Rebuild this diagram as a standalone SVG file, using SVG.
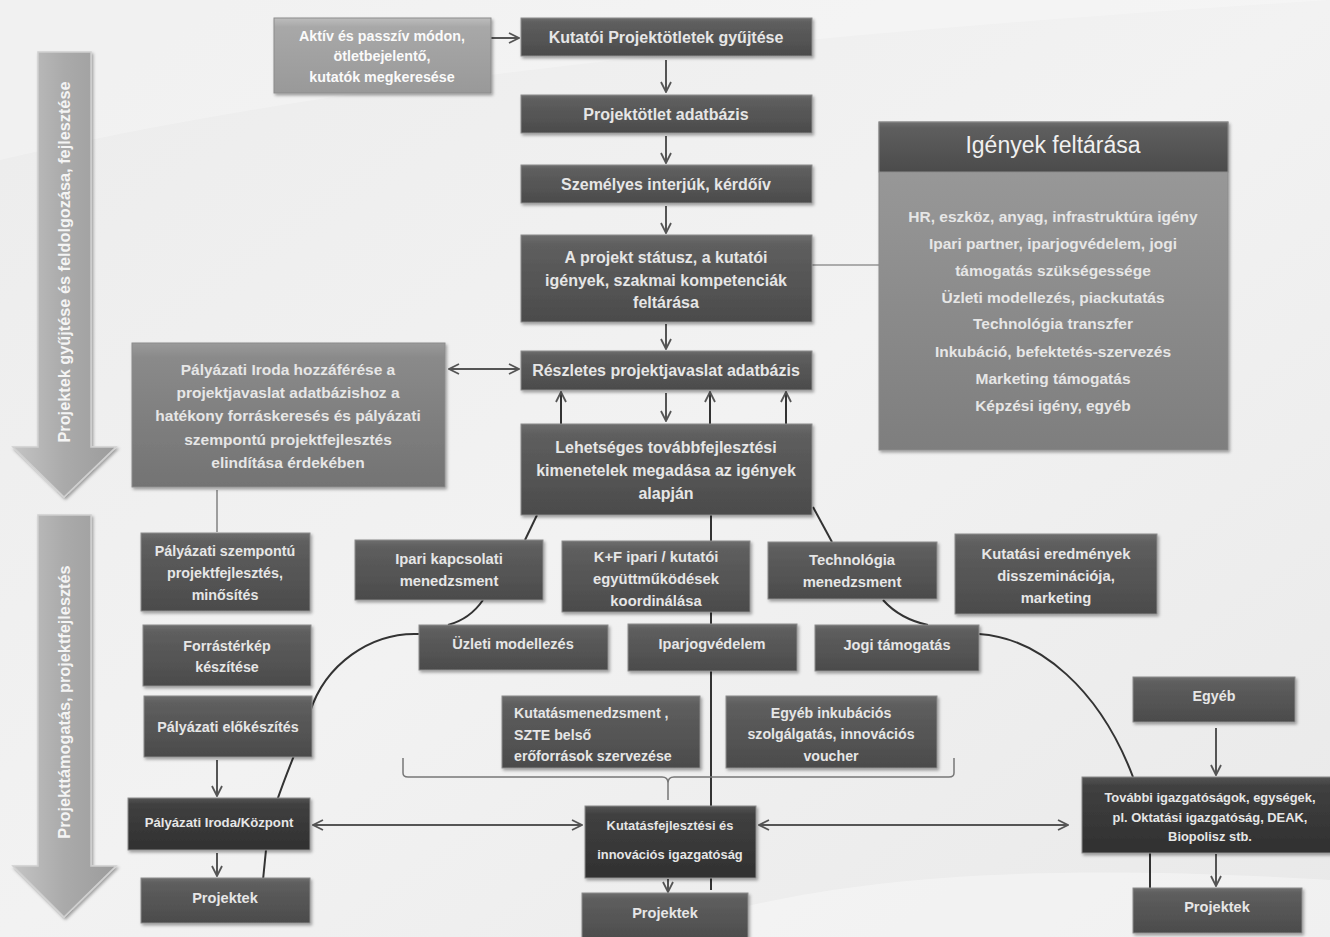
<svg xmlns="http://www.w3.org/2000/svg" width="1330" height="937" viewBox="0 0 1330 937">
<defs>
<linearGradient id="bg" x1="0" y1="0" x2="1" y2="1"><stop offset="0" stop-color="#ececec"/><stop offset="0.5" stop-color="#f2f2f2"/><stop offset="1" stop-color="#e9e9e9"/></linearGradient>
<linearGradient id="gDark" x1="0" y1="0" x2="0" y2="1"><stop offset="0" stop-color="#6e6e6e"/><stop offset="0.12" stop-color="#5e5e5e"/><stop offset="1" stop-color="#4b4b4b"/></linearGradient>
<linearGradient id="gDarker" x1="0" y1="0" x2="0" y2="1"><stop offset="0" stop-color="#555"/><stop offset="0.12" stop-color="#404040"/><stop offset="1" stop-color="#303030"/></linearGradient>
<linearGradient id="gLight" x1="0" y1="0" x2="0" y2="1"><stop offset="0" stop-color="#bdbdbd"/><stop offset="0.12" stop-color="#a8a8a8"/><stop offset="1" stop-color="#999"/></linearGradient>
<linearGradient id="gMid" x1="0" y1="0" x2="0" y2="1"><stop offset="0" stop-color="#9a9a9a"/><stop offset="0.1" stop-color="#8a8a8a"/><stop offset="1" stop-color="#737373"/></linearGradient>
<linearGradient id="gBody" x1="0" y1="0" x2="0" y2="1"><stop offset="0" stop-color="#9c9c9c"/><stop offset="1" stop-color="#7e7e7e"/></linearGradient>
<linearGradient id="gArrow" x1="0" y1="0" x2="1" y2="0"><stop offset="0" stop-color="#c4c4c4"/><stop offset="0.5" stop-color="#aaaaaa"/><stop offset="1" stop-color="#9c9c9c"/></linearGradient>
<filter id="sh" x="-5%" y="-5%" width="112%" height="125%"><feDropShadow dx="1.5" dy="2" stdDeviation="1.5" flood-color="#000" flood-opacity="0.35"/></filter>
<marker id="ah" viewBox="0 0 12 12" refX="11" refY="6" markerWidth="12" markerHeight="12" markerUnits="userSpaceOnUse" orient="auto-start-reverse"><path d="M1,1 L11,6 L1,11" fill="none" stroke="#555" stroke-width="1.8"/></marker>
<style>
.box rect{stroke:#8c8c8c;stroke-width:1;filter:url(#sh)}
.dk{fill:url(#gDark)}
.dd{fill:url(#gDarker)}
.lt{fill:url(#gLight)}
.md{fill:url(#gMid)}
.t{font-family:"Liberation Sans",Arial,sans-serif;fill:#e6e6e6;text-anchor:middle;font-size:14.3px;font-weight:bold}
.s16{font-size:16px}
.s155{font-size:15.5px}
.s148{font-size:14.8px}
.s146{font-size:14.6px}
.s142{font-size:14.2px}
.s132{font-size:13.2px}
.s129{font-size:12.9px}
.la{text-anchor:start}
.hd{font-size:23px;font-weight:normal;fill:#f0f0f0}
.c{fill:none;stroke:#555;stroke-width:2}
.cv{fill:none;stroke:#333;stroke-width:2}
.ar{marker-end:url(#ah)}
.ab{marker-start:url(#ah);marker-end:url(#ah)}
.big{fill:url(#gArrow);stroke:#d0d0d0;stroke-width:1.5;filter:url(#sh)}
.bt{font-family:"Liberation Sans",Arial,sans-serif;fill:#f4f4f4;text-anchor:middle;font-size:16.3px;font-weight:bold}
</style>
</defs>
<rect width="1330" height="937" fill="url(#bg)"/>
<path d="M640,937 C800,880 1000,860 1330,880 L1330,937 Z" fill="#ffffff" opacity="0.35"/>
<path d="M0,160 C300,90 700,40 1330,0 L0,0 Z" fill="#ffffff" opacity="0.25"/>

<g id="arrow-top">
<polygon class="big" points="38,52 91,52 91,447 116,447 64,497 13,447 38,447"/>
<text class="bt" transform="translate(70,262) rotate(-90)">Projektek gyűjtése és feldolgozása, fejlesztése</text>
</g>
<g id="arrow-bottom">
<polygon class="big" points="38,515 91,515 91,866 116,866 64,917 13,866 38,866"/>
<text class="bt" transform="translate(70,702) rotate(-90)">Projekttámogatás, projektfejlesztés</text>
</g>

<g id="connectors">
<path class="c ar" d="M491,38 L519,38"/>
<path class="c ar" d="M666,60 L666,92"/>
<path class="c ar" d="M666,136 L666,163"/>
<path class="c ar" d="M666,206 L666,233"/>
<path class="c ar" d="M666,324 L666,349"/>
<path d="M812,265 L879,265" fill="none" stroke="#666" stroke-width="1.2"/>
<path class="c ab" d="M449,369 L519,369"/>
<path class="c ar" d="M666,393 L666,421"/>
<path class="cv ar" d="M561,424 L561,392"/>
<path class="cv ar" d="M710,424 L710,392"/>
<path class="cv ar" d="M786,424 L786,392"/>
<path class="cv" d="M537,515 L525,540"/>
<path class="cv" d="M711,515 L711,541"/>
<path class="cv" d="M813,507 L832,542"/>
<path class="cv" d="M483,600 Q470,619 448,625"/>
<path class="cv" d="M883,600 Q900,619 928,625"/>
<path class="cv" d="M711,612 L711,624"/>
<path class="cv" d="M711,671 L711,806"/>
<path class="cv" d="M711,878 L711,890"/>
<path d="M403,758 L403,773 Q403,777 408,777 L662,777 Q668,777 668,783 Q668,777 674,777 L949,777 Q954,777 954,773 L954,758 M668,783 L668,800" fill="none" stroke="#777" stroke-width="1.5"/>
<path class="cv" d="M419,634 C370,632 325,665 310,712 C296,755 278,790 268,830 L263,880"/>
<path class="cv" d="M979,634 C1040,638 1100,690 1133,777"/>
<path class="cv" d="M1150,853 L1150,888"/>
<path class="c ar" d="M1216,728 L1216,775"/>
<path class="c ar" d="M1216,854 L1216,886"/>
<path class="c ab" d="M313,825 L582,825"/>
<path class="c ab" d="M759,825 L1068,825"/>
<path class="c ar" d="M668,879 L668,892"/>
<path class="c ar" d="M217,760 L217,796"/>
<path class="c ar" d="M217,853 L217,876"/>
<path d="M217,490 L217,532" fill="none" stroke="#666" stroke-width="1.2"/>
</g>

<g id="n-aktiv" class="box"><rect class="lt" x="274" y="18" width="217" height="75"/><text class="t" style="fill:#fafafa"><tspan x="382" y="41">Aktív és passzív módon,</tspan><tspan x="382" y="61">ötletbejelentő,</tspan><tspan x="382" y="82">kutatók megkeresése</tspan></text></g>
<g id="n-kutatoi" class="box"><rect class="dk" x="521" y="18" width="291" height="38"/><text class="t s16" x="666" y="43">Kutatói Projektötletek gyűjtése</text></g>
<g id="n-otlet" class="box"><rect class="dk" x="521" y="95" width="291" height="38"/><text class="t s16" x="666" y="120">Projektötlet adatbázis</text></g>
<g id="n-szemelyes" class="box"><rect class="dk" x="521" y="165" width="291" height="38"/><text class="t s16" x="666" y="190">Személyes interjúk, kérdőív</text></g>
<g id="n-statusz" class="box"><rect class="dk" x="521" y="235" width="291" height="87"/><text class="t s16"><tspan x="666" y="263">A projekt státusz, a kutatói</tspan><tspan x="666" y="286">igények, szakmai kompetenciák</tspan><tspan x="666" y="308">feltárása</tspan></text></g>
<g id="n-reszletes" class="box"><rect class="dk" x="521" y="351" width="291" height="39"/><text class="t s16" x="666" y="376">Részletes projektjavaslat adatbázis</text></g>
<g id="n-lehetseges" class="box"><rect class="dk" x="521" y="424" width="291" height="91"/><text class="t s16"><tspan x="666" y="453">Lehetséges továbbfejlesztési</tspan><tspan x="666" y="476">kimenetelek megadása az igények</tspan><tspan x="666" y="499">alapján</tspan></text></g>
<g id="n-igenyek" class="box"><rect x="879" y="122" width="349" height="328" fill="url(#gBody)"/><rect class="dk" x="879" y="122" width="349" height="50" style="filter:none"/><text class="t hd" x="1053" y="153">Igények feltárása</text><text class="t s155"><tspan x="1053" y="222">HR, eszköz, anyag, infrastruktúra igény</tspan><tspan x="1053" y="249">Ipari partner, iparjogvédelem, jogi</tspan><tspan x="1053" y="276">támogatás szükségessége</tspan><tspan x="1053" y="303">Üzleti modellezés, piackutatás</tspan><tspan x="1053" y="329">Technológia transzfer</tspan><tspan x="1053" y="357">Inkubáció, befektetés-szervezés</tspan><tspan x="1053" y="384">Marketing támogatás</tspan><tspan x="1053" y="411">Képzési igény, egyéb</tspan></text></g>
<g id="n-hozzaferes" class="box"><rect class="md" x="132" y="343" width="313" height="144"/><text class="t s155"><tspan x="288" y="375">Pályázati Iroda hozzáférése a</tspan><tspan x="288" y="398">projektjavaslat adatbázishoz a</tspan><tspan x="288" y="421">hatékony forráskeresés és pályázati</tspan><tspan x="288" y="445">szempontú projektfejlesztés</tspan><tspan x="288" y="468">elindítása érdekében</tspan></text></g>
<g id="n-szempontu" class="box"><rect class="dk" x="141" y="533" width="169" height="78"/><text class="t"><tspan x="225" y="556">Pályázati szempontú</tspan><tspan x="225" y="578">projektfejlesztés,</tspan><tspan x="225" y="600">minősítés</tspan></text></g>
<g id="n-forrasterkep" class="box"><rect class="dk" x="143" y="625" width="168" height="61"/><text class="t"><tspan x="227" y="651">Forrástérkép</tspan><tspan x="227" y="672">készítése</tspan></text></g>
<g id="n-elokeszites" class="box"><rect class="dk" x="144" y="696" width="168" height="61"/><text class="t" x="228" y="732">Pályázati előkészítés</text></g>
<g id="n-iroda" class="box"><rect class="dd" x="128" y="798" width="182" height="52"/><text class="t s132" x="219" y="827">Pályázati Iroda/Központ</text></g>
<g id="n-projektek-bal" class="box"><rect class="dk" x="141" y="878" width="169" height="45"/><text class="t s146" x="225" y="903">Projektek</text></g>
<g id="n-ipari" class="box"><rect class="dk" x="355" y="540" width="188" height="60"/><text class="t s148"><tspan x="449" y="564">Ipari kapcsolati</tspan><tspan x="449" y="586">menedzsment</tspan></text></g>
<g id="n-kf" class="box"><rect class="dk" x="562" y="541" width="188" height="71"/><text class="t s148"><tspan x="656" y="562">K+F ipari / kutatói</tspan><tspan x="656" y="584">együttműködések</tspan><tspan x="656" y="606">koordinálása</tspan></text></g>
<g id="n-technologia" class="box"><rect class="dk" x="768" y="542" width="169" height="57"/><text class="t s148"><tspan x="852" y="565">Technológia</tspan><tspan x="852" y="587">menedzsment</tspan></text></g>
<g id="n-kutatasi" class="box"><rect class="dk" x="955" y="534" width="202" height="80"/><text class="t s148"><tspan x="1056" y="559">Kutatási eredmények</tspan><tspan x="1056" y="581">disszeminációja,</tspan><tspan x="1056" y="603">marketing</tspan></text></g>
<g id="n-uzleti" class="box"><rect class="dk" x="419" y="625" width="189" height="45"/><text class="t s146" x="513" y="649">Üzleti modellezés</text></g>
<g id="n-iparjog" class="box"><rect class="dk" x="628" y="624" width="169" height="47"/><text class="t s146" x="712" y="649">Iparjogvédelem</text></g>
<g id="n-jogi" class="box"><rect class="dk" x="815" y="625" width="164" height="46"/><text class="t s146" x="897" y="650">Jogi támogatás</text></g>
<g id="n-kutatasmened" class="box"><rect class="dk" x="502" y="696" width="198" height="72"/><text class="t s142 la"><tspan x="514" y="718">Kutatásmenedzsment ,</tspan><tspan x="514" y="740">SZTE belső</tspan><tspan x="514" y="761">erőforrások szervezése</tspan></text></g>
<g id="n-egyebinkub" class="box"><rect class="dk" x="726" y="696" width="211" height="72"/><text class="t s142"><tspan x="831" y="718">Egyéb inkubációs</tspan><tspan x="831" y="739">szolgálgatás, innovációs</tspan><tspan x="831" y="761">voucher</tspan></text></g>
<g id="n-kutfejl" class="box"><rect class="dd" x="585" y="806" width="171" height="72"/><text class="t s129"><tspan x="670" y="830">Kutatásfejlesztési és</tspan><tspan x="670" y="859">innovációs igazgatóság</tspan></text></g>
<g id="n-projektek-kozep" class="box"><rect class="dk" x="582" y="893" width="166" height="50"/><text class="t s146" x="665" y="918">Projektek</text></g>
<g id="n-egyeb" class="box"><rect class="dk" x="1133" y="677" width="162" height="45"/><text class="t" x="1214" y="701">Egyéb</text></g>
<g id="n-tovabbi" class="box"><rect class="dd" x="1082" y="777" width="252" height="76"/><text class="t s129"><tspan x="1210" y="802">További igazgatóságok, egységek,</tspan><tspan x="1210" y="822">pl. Oktatási igazgatóság, DEAK,</tspan><tspan x="1210" y="841">Biopolisz stb.</tspan></text></g>
<g id="n-projektek-jobb" class="box"><rect class="dk" x="1133" y="888" width="169" height="45"/><text class="t s146" x="1217" y="912">Projektek</text></g>
</svg>
